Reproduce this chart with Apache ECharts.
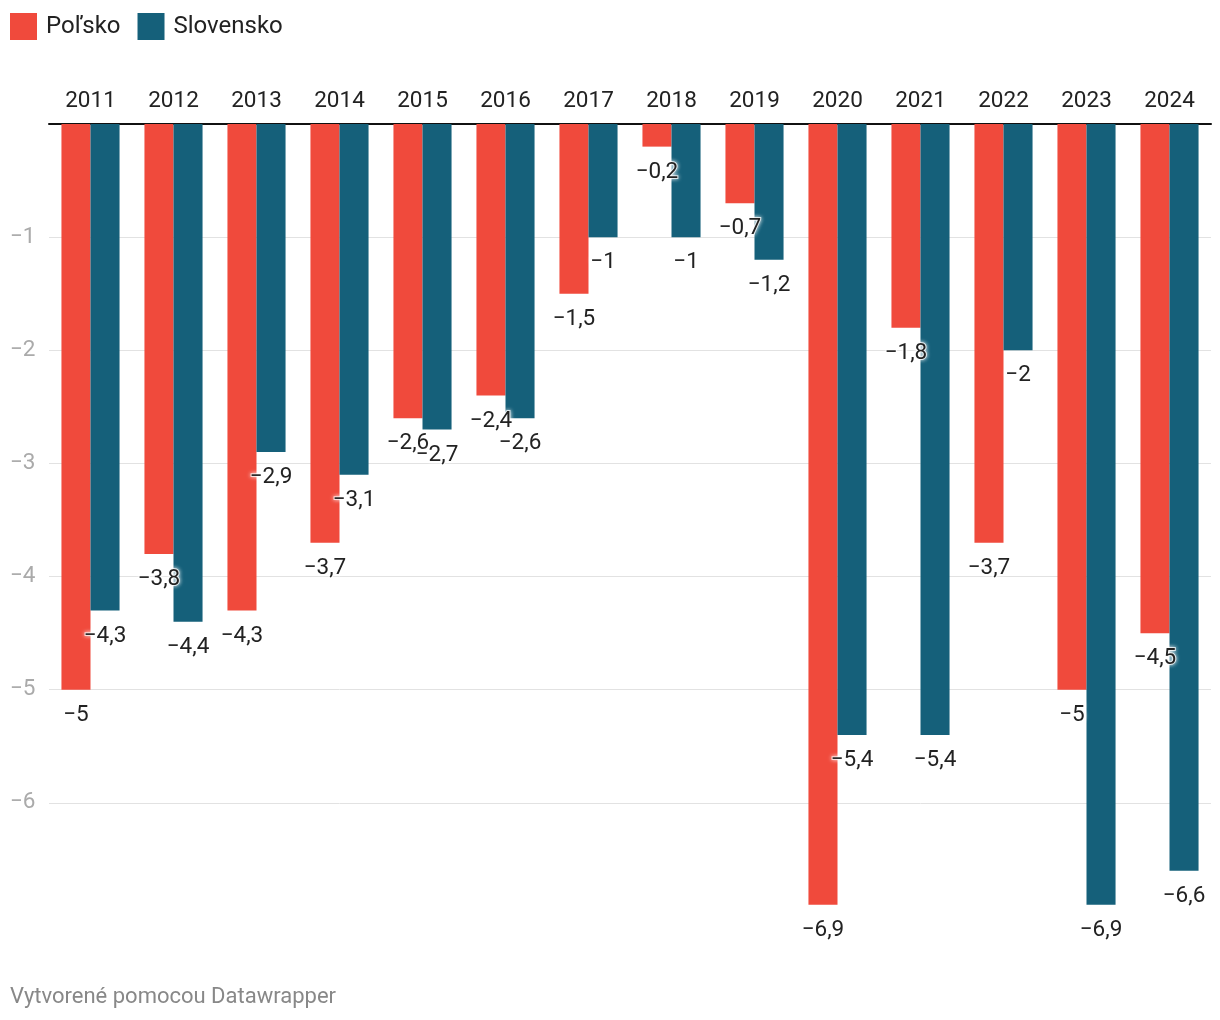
<!DOCTYPE html>
<html>
<head>
<meta charset="utf-8">
<script src="https://cdn.jsdelivr.net/npm/echarts@6/dist/echarts.min.js"></script>
<style>
html,body{margin:0;padding:0;background:#fff;}
#chart{width:1220px;height:1020px;}
</style>
</head>
<body>
<div id="chart"></div>
<script>
const years = ['2011','2012','2013','2014','2015','2016','2017','2018','2019','2020','2021','2022','2023','2024'];
const polsko = [-5, -3.8, -4.3, -3.7, -2.6, -2.4, -1.5, -0.2, -0.7, -6.9, -1.8, -3.7, -5, -4.5];
const slovensko = [-4.3, -4.4, -2.9, -3.1, -2.7, -2.6, -1, -1, -1.2, -5.4, -5.4, -2, -6.9, -6.6];
const seriesNames = ['Poľsko', 'Slovensko'];
const colors = ['#f04a3c', '#15607a'];

const fmt = v => (v < 0 ? '\u2212' : '') + String(Math.abs(v)).replace('.', ',');
const font = 'Roboto, "Noto Sans", sans-serif';

const labelCfg = {
  show: true,
  position: 'bottom',
  distance: 14,
  fontFamily: font,
  fontSize: 22.5,
  color: '#222',
  textBorderColor: 'rgba(255,255,255,0.75)',
  textBorderWidth: 2,
  textShadowColor: 'rgba(255,255,255,0.9)',
  textShadowBlur: 4,
  formatter: p => fmt(p.value)
};

const chart = echarts.init(document.getElementById('chart'));
chart.setOption({
  animation: false,
  textStyle: { fontFamily: font },
  legend: {
    left: 10, top: 13, padding: 0,
    itemWidth: 27, itemHeight: 27, itemGap: 17,
    icon: 'rect',
    textStyle: { fontSize: 24, color: '#222', fontFamily: font, padding: [2, 0, 0, 4] },
    data: seriesNames
  },
  graphic: [{
    type: 'text', left: 10, top: 986,
    style: { text: 'Vytvorené pomocou Datawrapper', fontSize: 22, fill: '#888', fontFamily: font }
  }],
  grid: { left: 49, right: 9, top: 124, bottom: 104, containLabel: false },
  xAxis: {
    type: 'category',
    position: 'top',
    data: years,
    axisLine: { onZero: false, lineStyle: { color: '#111', width: 2 } },
    axisTick: { show: false },
    axisLabel: { fontSize: 22.5, color: '#222', margin: 11, fontFamily: font }
  },
  yAxis: {
    type: 'value',
    min: -7, max: 0, interval: 1,
    axisLine: { show: false },
    axisTick: { show: false },
    axisLabel: {
      fontSize: 22.5, color: '#aaa', align: 'left', margin: 39, fontFamily: font,
      formatter: v => (v === 0 || v === -7) ? '' : fmt(v)
    },
    splitLine: { lineStyle: { color: ['rgba(0,0,0,0)', '#e2e2e2', '#e2e2e2', '#e2e2e2', '#e2e2e2', '#e2e2e2', '#e2e2e2', 'rgba(0,0,0,0)'], width: 1 } }
  },
  series: [
    { name: seriesNames[0], type: 'bar', data: polsko, itemStyle: { color: colors[0] }, barGap: '0%', barCategoryGap: '30%', label: labelCfg },
    { name: seriesNames[1], type: 'bar', data: slovensko, itemStyle: { color: colors[1] }, barGap: '0%', barCategoryGap: '30%', label: labelCfg }
  ]
});
</script>
</body>
</html>
